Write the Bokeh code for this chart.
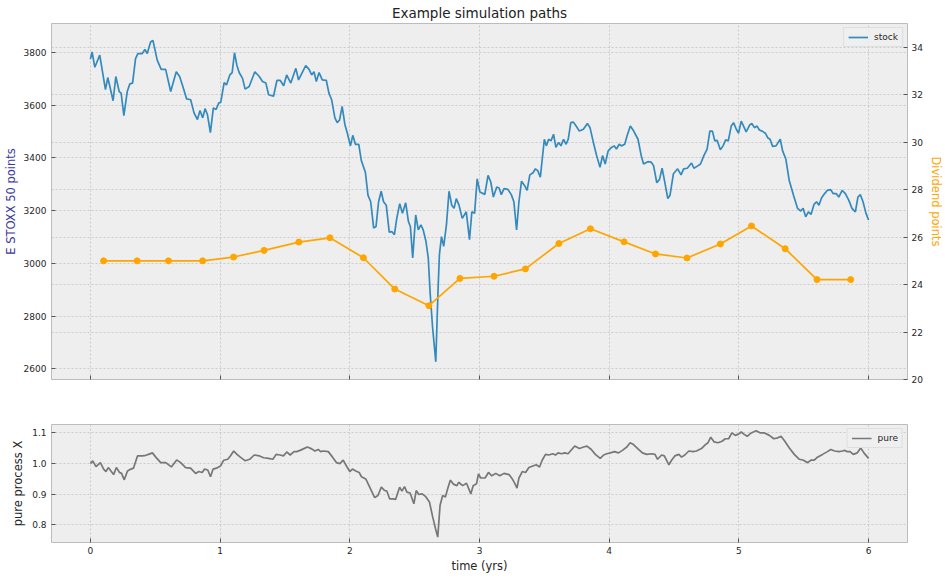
from bokeh.plotting import figure
from bokeh.models import (Range1d, LinearAxis, Grid, FixedTicker, Legend, LegendItem,
                          PrintfTickFormatter)
from bokeh.layouts import column
from bokeh.embed import file_html
from bokeh.resources import INLINE

# ---------------- data ----------------
stock_t = [0.0, 0.013, 0.034, 0.072, 0.116, 0.134, 0.175, 0.196, 0.222, 0.237, 0.258, 0.284, 0.304, 0.325,
           0.348, 0.366, 0.4, 0.42, 0.438, 0.464, 0.482, 0.515, 0.546, 0.58, 0.619, 0.662, 0.688, 0.714,
           0.742, 0.773, 0.799, 0.825, 0.845, 0.866, 0.884, 0.902, 0.925, 0.948, 0.969, 0.99, 1.005, 1.031,
           1.049, 1.075, 1.093, 1.111, 1.129, 1.147, 1.173, 1.193, 1.224, 1.268, 1.302, 1.327, 1.353, 1.374,
           1.412, 1.438, 1.464, 1.49, 1.513, 1.545, 1.584, 1.605, 1.66, 1.686, 1.706, 1.724, 1.742, 1.763,
           1.788, 1.819, 1.839, 1.86, 1.885, 1.903, 1.921, 1.941, 1.962, 1.98, 2.005, 2.023, 2.043, 2.069,
           2.089, 2.12, 2.14, 2.161, 2.184, 2.202, 2.222, 2.242, 2.26, 2.281, 2.304, 2.324, 2.344, 2.362,
           2.385, 2.406, 2.431, 2.452, 2.467, 2.485, 2.508, 2.528, 2.548, 2.566, 2.587, 2.605, 2.62, 2.638,
           2.663, 2.681, 2.691, 2.707, 2.724, 2.745, 2.765, 2.786, 2.804, 2.821, 2.842, 2.867, 2.898, 2.923,
           2.941, 2.962, 2.982, 3.003, 3.041, 3.066, 3.087, 3.107, 3.133, 3.151, 3.168, 3.189, 3.219, 3.245,
           3.265, 3.286, 3.304, 3.324, 3.347, 3.367, 3.388, 3.413, 3.431, 3.449, 3.469, 3.5, 3.515, 3.533,
           3.551, 3.571, 3.589, 3.61, 3.628, 3.648, 3.668, 3.684, 3.704, 3.724, 3.745, 3.77, 3.801, 3.832,
           3.852, 3.878, 3.903, 3.929, 3.949, 3.969, 3.992, 4.018, 4.038, 4.056, 4.077, 4.094, 4.12, 4.138,
           4.163, 4.189, 4.222, 4.247, 4.265, 4.298, 4.324, 4.342, 4.367, 4.388, 4.408, 4.426, 4.452, 4.469,
           4.495, 4.528, 4.554, 4.574, 4.602, 4.635, 4.653, 4.686, 4.704, 4.73, 4.755, 4.776, 4.796, 4.814,
           4.832, 4.857, 4.878, 4.898, 4.918, 4.941, 4.959, 4.98, 4.997, 5.018, 5.036, 5.056, 5.082, 5.1,
           5.12, 5.14, 5.158, 5.179, 5.204, 5.222, 5.24, 5.26, 5.286, 5.319, 5.337, 5.362, 5.388, 5.421,
           5.452, 5.477, 5.495, 5.515, 5.536, 5.556, 5.579, 5.599, 5.617, 5.638, 5.661, 5.681, 5.707, 5.727,
           5.75, 5.77, 5.796, 5.821, 5.847, 5.872, 5.898, 5.918, 5.936, 5.957, 5.98, 6.0]
stock = [3775, 3802, 3744, 3790, 3659, 3705, 3617, 3709, 3652, 3646, 3561, 3652, 3681, 3684,
         3777, 3796, 3796, 3812, 3796, 3840, 3846, 3771, 3736, 3736, 3652, 3727, 3709, 3669,
         3624, 3621, 3571, 3546, 3580, 3552, 3587, 3565, 3496, 3590, 3584, 3609, 3611, 3686,
         3677, 3715, 3724, 3799, 3752, 3724, 3702, 3661, 3671, 3727, 3709, 3690, 3684, 3640,
         3634, 3694, 3694, 3674, 3715, 3684, 3740, 3696, 3750, 3736, 3715, 3727, 3690, 3724,
         3696, 3694, 3646, 3621, 3552, 3534, 3544, 3596, 3527, 3496, 3446, 3486, 3452, 3452,
         3390, 3346, 3259, 3234, 3134, 3140, 3234, 3274, 3234, 3221, 3119, 3121, 3109, 3171,
         3227, 3190, 3230, 3159, 3140, 3021, 3184, 3127, 3146, 3127, 3084, 3021, 2884, 2759,
         2627, 2909, 3034, 3102, 3065, 3146, 3274, 3221, 3209, 3246, 3221, 3171, 3196, 3090,
         3196, 3190, 3321, 3271, 3262, 3334, 3309, 3252, 3290, 3286, 3261, 3284, 3281, 3261,
         3234, 3127, 3234, 3312, 3296, 3277, 3336, 3344, 3359, 3352, 3327, 3471, 3446, 3471,
         3465, 3490, 3440, 3459, 3446, 3471, 3452, 3471, 3534, 3536, 3521, 3502, 3509, 3531,
         3515, 3459, 3409, 3365, 3409, 3377, 3427, 3440, 3446, 3434, 3452, 3446, 3452, 3484,
         3521, 3502, 3471, 3409, 3377, 3386, 3384, 3371, 3306, 3319, 3361, 3315, 3246, 3259,
         3340, 3359, 3336, 3359, 3361, 3381, 3361, 3371, 3377, 3409, 3434, 3502, 3502, 3465,
         3467, 3431, 3446, 3469, 3465, 3521, 3534, 3509, 3494, 3540, 3521, 3499, 3524, 3531,
         3515, 3521, 3506, 3502, 3494, 3477, 3471, 3444, 3446, 3471, 3427, 3396, 3315, 3259,
         3209, 3199, 3209, 3177, 3196, 3186, 3224, 3234, 3221, 3249, 3265, 3277, 3280, 3265,
         3265, 3252, 3277, 3265, 3240, 3209, 3196, 3252, 3261, 3234, 3190, 3165]

div_t = [0.102, 0.36, 0.602, 0.865, 1.104, 1.339, 1.607, 1.847, 2.105, 2.347, 2.61, 2.849,
         3.112, 3.354, 3.612, 3.855, 4.115, 4.357, 4.6, 4.857, 5.097, 5.357, 5.602, 5.862]
div_v = [25.0, 25.0, 25.0, 25.0, 25.16, 25.44, 25.79, 25.97, 25.13, 23.81, 23.11, 24.26,
         24.35, 24.66, 25.73, 26.35, 25.8, 25.29, 25.12, 25.71, 26.47, 25.51, 24.21, 24.21]

pure_t = [0.0, 0.018, 0.043, 0.077, 0.102, 0.12, 0.138, 0.179, 0.2, 0.225, 0.24, 0.261, 0.286, 0.312,
          0.332, 0.363, 0.402, 0.427, 0.448, 0.478, 0.504, 0.542, 0.581, 0.624, 0.665, 0.696, 0.734,
          0.772, 0.811, 0.836, 0.862, 0.88, 0.905, 0.926, 0.946, 0.972, 1.003, 1.028, 1.059, 1.079,
          1.105, 1.13, 1.156, 1.194, 1.228, 1.263, 1.304, 1.335, 1.373, 1.407, 1.432, 1.463, 1.488,
          1.514, 1.54, 1.57, 1.591, 1.616, 1.642, 1.673, 1.706, 1.731, 1.757, 1.775, 1.795, 1.834,
          1.867, 1.898, 1.923, 1.949, 1.974, 2.0, 2.02, 2.046, 2.072, 2.09, 2.123, 2.148, 2.166,
          2.192, 2.217, 2.243, 2.269, 2.286, 2.307, 2.332, 2.353, 2.384, 2.402, 2.422, 2.44, 2.465,
          2.494, 2.512, 2.532, 2.558, 2.583, 2.614, 2.639, 2.66, 2.678, 2.696, 2.716, 2.737, 2.754,
          2.775, 2.798, 2.826, 2.839, 2.87, 2.9, 2.933, 2.951, 2.977, 2.992, 3.01, 3.043, 3.069,
          3.095, 3.125, 3.156, 3.189, 3.228, 3.253, 3.274, 3.289, 3.304, 3.33, 3.355, 3.381, 3.412,
          3.437, 3.463, 3.483, 3.509, 3.535, 3.565, 3.586, 3.606, 3.632, 3.657, 3.683, 3.701, 3.734,
          3.77, 3.803, 3.829, 3.862, 3.893, 3.931, 3.957, 3.982, 4.008, 4.041, 4.072, 4.102, 4.136,
          4.161, 4.187, 4.22, 4.256, 4.289, 4.327, 4.353, 4.373, 4.404, 4.425, 4.442, 4.46, 4.481,
          4.506, 4.537, 4.558, 4.583, 4.614, 4.647, 4.673, 4.711, 4.742, 4.762, 4.783, 4.808, 4.839,
          4.87, 4.895, 4.921, 4.946, 4.972, 4.997, 5.018, 5.038, 5.064, 5.095, 5.133, 5.166, 5.197,
          5.235, 5.269, 5.3, 5.325, 5.35, 5.389, 5.427, 5.466, 5.499, 5.529, 5.555, 5.581, 5.606,
          5.645, 5.683, 5.708, 5.739, 5.772, 5.798, 5.816, 5.836, 5.857, 5.882, 5.913, 5.939, 5.964, 6.0]
pure = [1.0, 1.009, 0.99, 1.003, 0.982, 0.974, 0.987, 0.964, 0.987, 0.971, 0.968, 0.947, 0.976, 0.982,
        0.985, 1.025, 1.025, 1.027, 1.03, 1.035, 1.021, 1.003, 1.003, 0.989, 1.012, 1.003, 0.987,
        0.985, 0.968, 0.974, 0.971, 0.982, 0.979, 0.957, 0.982, 0.985, 0.992, 1.011, 1.014, 1.025,
        1.041, 1.03, 1.021, 1.009, 1.014, 1.028, 1.025, 1.019, 1.017, 1.014, 1.03, 1.028, 1.025,
        1.038, 1.028, 1.039, 1.039, 1.043, 1.048, 1.054, 1.048, 1.041, 1.046, 1.039, 1.041, 1.039,
        1.021, 1.003, 1.0, 1.011, 0.992, 0.974, 0.982, 0.976, 0.971, 0.957, 0.95, 0.928, 0.912,
        0.889, 0.896, 0.923, 0.912, 0.91, 0.885, 0.885, 0.883, 0.923, 0.91, 0.925, 0.907, 0.904,
        0.869, 0.912, 0.899, 0.901, 0.893, 0.875, 0.826, 0.789, 0.76, 0.864, 0.896, 0.891, 0.917,
        0.946, 0.933, 0.928, 0.939, 0.928, 0.936, 0.901, 0.928, 0.934, 0.966, 0.953, 0.953, 0.971,
        0.96, 0.968, 0.96, 0.968, 0.964, 0.95, 0.934, 0.92, 0.953, 0.974, 0.971, 0.987, 0.992,
        0.996, 0.989, 1.011, 1.03, 1.028, 1.032, 1.028, 1.035, 1.032, 1.035, 1.032, 1.041, 1.057,
        1.049, 1.054, 1.057, 1.046, 1.03, 1.017, 1.028, 1.032, 1.035, 1.039, 1.035, 1.043, 1.054,
        1.068, 1.062, 1.049, 1.035, 1.03, 1.032, 1.03, 1.014, 1.028, 1.025, 1.011, 0.996, 1.011,
        1.025, 1.03, 1.021, 1.028, 1.041, 1.039, 1.041, 1.049, 1.062, 1.068, 1.086, 1.071, 1.068,
        1.073, 1.081, 1.081, 1.1, 1.092, 1.096, 1.103, 1.096, 1.089, 1.1, 1.107, 1.1, 1.1,
        1.092, 1.081, 1.084, 1.089, 1.075, 1.051, 1.03, 1.014, 1.011, 1.003, 1.011, 1.011, 1.021,
        1.03, 1.039, 1.046, 1.041, 1.039, 1.041, 1.043, 1.039, 1.039, 1.03, 1.035, 1.051, 1.035, 1.017]

x_ticks = [0, 1, 2, 3, 4, 5, 6]
left_ticks = [2600, 2800, 3000, 3200, 3400, 3600, 3800]
right_ticks = [20, 22, 24, 26, 28, 30, 32, 34]
pure_ticks = [0.8, 0.9, 1.0, 1.1]

# ---------------- style ----------------
FONT = "DejaVu Sans"
BG = "#eeeeee"
EDGE = "#bcbcbc"
GRID = "#c2c2c2"
TXT = "#262626"
TICK_FS = "9px"
LABEL_FS = "11.5px"
FRAME_W = 856
BORDER_L = 43
BORDER_R = 30

x_range = Range1d(-0.3, 6.3)


def style_common(p):
    p.background_fill_color = BG
    p.border_fill_color = "white"
    p.outline_line_color = EDGE
    p.outline_line_width = 1
    for g in p.grid:
        g.grid_line_color = GRID
        g.grid_line_width = 0.8
        g.grid_line_dash = "2 2"
    for ax in p.axis:
        ax.major_tick_in = 4
        ax.major_tick_out = 0
        ax.minor_tick_line_color = None
        ax.major_tick_line_color = "#555555"
        ax.axis_line_color = None
        ax.major_label_text_font = FONT
        ax.major_label_text_font_size = TICK_FS
        ax.major_label_text_color = TXT
        ax.axis_label_text_font = FONT
        ax.axis_label_text_font_size = LABEL_FS
        ax.axis_label_text_font_style = "normal"
        ax.axis_label_text_color = TXT


# ---------------- top panel ----------------
p1 = figure(frame_width=FRAME_W, frame_height=356, x_range=x_range,
            y_range=Range1d(2560, 3910), output_backend="svg", toolbar_location=None,
            title="Example simulation paths",
            min_border_left=BORDER_L, min_border_right=BORDER_R,
            min_border_top=20, min_border_bottom=8)
p1.extra_y_ranges = {"div": Range1d(20, 35)}
p1.title.text_font = FONT
p1.title.text_font_size = "13.5px"
p1.title.text_font_style = "normal"
p1.title.text_color = "#222222"
p1.title.align = "center"
p1.title.standoff = 5

p1.xaxis.ticker = FixedTicker(ticks=x_ticks)
p1.yaxis.ticker = FixedTicker(ticks=left_ticks)
p1.yaxis.axis_label = "E STOXX 50 points"

right_ticker = FixedTicker(ticks=right_ticks)
raxis = LinearAxis(y_range_name="div", ticker=right_ticker, axis_label="Dividend points")
p1.add_layout(raxis, "right")
p1.add_layout(Grid(dimension=1, ticker=right_ticker, y_range_name="div"))

style_common(p1)
# shared x axis: tick marks only, no labels on the upper panel
p1.xaxis.major_label_overrides = {t: "" for t in x_ticks}
p1.xaxis.major_label_standoff = 0
p1.yaxis[0].axis_label_text_color = "#3a3aa0"
p1.yaxis[0].major_label_standoff = 5
p1.yaxis[0].axis_label_standoff = 3
raxis.axis_label_text_color = "#ffa500"
raxis.major_label_standoff = 4
raxis.axis_label_standoff = 3

r_stock = p1.line(stock_t, stock, line_color="#348ABD", line_width=1.7)
p1.line(div_t, div_v, y_range_name="div", line_color="#ffa500", line_width=1.7)
p1.scatter(div_t, div_v, y_range_name="div", size=6, fill_color="#ffa500",
           line_color="#ffa500")

leg1 = Legend(items=[LegendItem(label="stock", renderers=[r_stock])], location="top_right")
p1.add_layout(leg1)

# ---------------- bottom panel ----------------
p2 = figure(frame_width=FRAME_W, frame_height=118, x_range=x_range,
            y_range=Range1d(0.7425, 1.1275), output_backend="svg", toolbar_location=None,
            min_border_left=BORDER_L, min_border_right=BORDER_R,
            min_border_top=37, min_border_bottom=4)
p2.xaxis.ticker = FixedTicker(ticks=x_ticks)
p2.yaxis.ticker = FixedTicker(ticks=pure_ticks)
p2.yaxis.formatter = PrintfTickFormatter(format="%.1f")
p2.xaxis.axis_label = "time (yrs)"
p2.yaxis.axis_label = "pure process X"
style_common(p2)
p2.xaxis.major_label_standoff = 4
p2.xaxis.axis_label_standoff = 2
p2.yaxis.major_label_standoff = 5
p2.yaxis.axis_label_standoff = 4

r_pure = p2.line(pure_t, pure, line_color="#777777", line_width=1.7)
leg2 = Legend(items=[LegendItem(label="pure", renderers=[r_pure])], location="top_right")
p2.add_layout(leg2)

for lg in (leg1, leg2):
    lg.label_text_font = FONT
    lg.label_text_font_size = "9px"
    lg.label_text_color = TXT
    lg.glyph_width = 20
    lg.glyph_height = 10
    lg.label_height = 10
    lg.label_standoff = 6
    lg.padding = 4
    lg.margin = 4
    lg.spacing = 0
    lg.background_fill_color = BG
    lg.background_fill_alpha = 0.85
    lg.border_line_color = "#d0d0d0"
    lg.border_line_width = 1

layout = column(p1, p2, spacing=0)
open("out.html", "w").write(file_html(layout, INLINE))
